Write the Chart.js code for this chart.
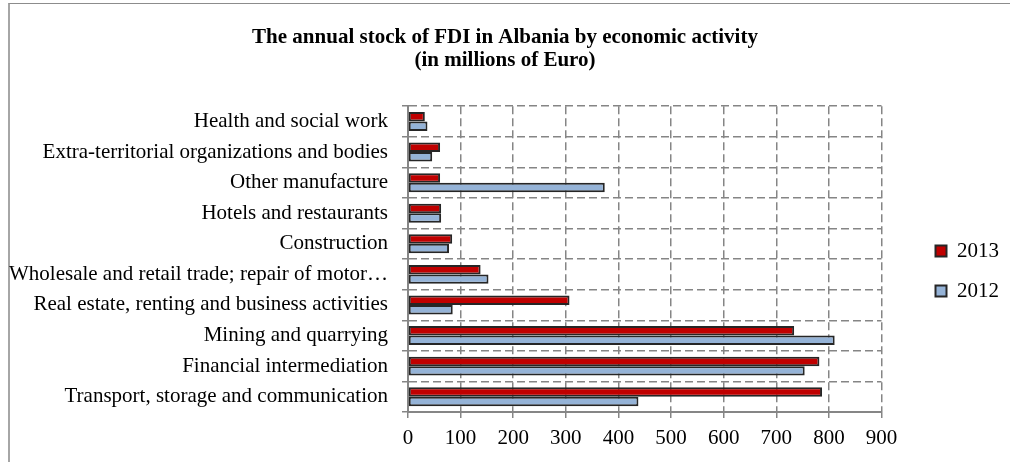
<!DOCTYPE html>
<html>
<head>
<meta charset="utf-8">
<title>FDI stock in Albania</title>
<script src="https://cdn.jsdelivr.net/npm/chart.js"></script>
<style>
	html, body { margin: 0; padding: 0; background: #fff; }
	#wrap { position: relative; width: 1010px; height: 462px; overflow: hidden; }
	#frame { position: absolute; left: 8px; top: 3px; width: 1100px; height: 600px; border-left: 2px solid #a6a6a6; border-top: 1px solid #8c8c8c; }
	#graf_fdi { position: absolute; left: 0; top: 0; }
</style>
</head>
<body>
<div id="wrap">
	<div id="frame"></div>
	<canvas id="graf_fdi" width="1010" height="462"></canvas>
</div>
<script>
// values (millions of Euro)
var activities = [
	'Health and social work',
	'Extra-territorial organizations and bodies',
	'Other manufacture',
	'Hotels and restaurants',
	'Construction',
	'Wholesale and retail trade; repair of motor\u2026',
	'Real estate, renting and business activities',
	'Mining and quarrying',
	'Financial intermediation',
	'Transport, storage and communication'
];
var stock2013 = [32, 61, 61, 63, 84, 138, 307, 734, 782, 787];
var stock2012 = [37, 46, 374, 63, 78, 153, 85, 811, 754, 438];
var valueTicks = [0, 100, 200, 300, 400, 500, 600, 700, 800, 900];

var serif = 'Liberation Serif, Times New Roman, serif';

// shift title and legend a little, like the original layout
var boxNudge = {
	id: 'boxNudge',
	afterLayout: function(chart) {
		chart.titleBlock.left += 18;
		chart.titleBlock.right += 18;
		chart.legend.left += 35;
		chart.legend.right += 35;
		chart.legend.top += 40;
		chart.legend.bottom += 40;
	}
};

var chartdata = {
	labels: activities,
	datasets: [
		{
			label: '2013',
			backgroundColor: '#C00000',
			borderColor: '#262626',
			borderWidth: 2,
			borderSkipped: false,
			data: stock2013
		},
		{
			label: '2012',
			backgroundColor: '#95B3D7',
			borderColor: '#262626',
			borderWidth: 2,
			borderSkipped: false,
			data: stock2012
		}
	]
};

var ctx = document.getElementById('graf_fdi');

var barGraph = new Chart(ctx, {
	type: 'bar',
	data: chartdata,
	plugins: [boxNudge],
	options: {
		indexAxis: 'y',
		responsive: false,
		animation: false,
		categoryPercentage: 0.62,
		barPercentage: 1.0,
		layout: { padding: { left: 0, right: 36, top: 0, bottom: 0 } },
		plugins: {
			title: {
				display: true,
				text: ['The annual stock of FDI in Albania by economic activity', '(in millions of Euro)'],
				color: '#000',
				font: { family: serif, size: 21, weight: 'bold', lineHeight: 1.1 },
				padding: { top: 26, bottom: 34 }
			},
			legend: {
				position: 'right',
				labels: {
					boxWidth: 11,
					boxHeight: 11,
					padding: 19,
					color: '#000',
					font: { family: serif, size: 21 }
				}
			},
			tooltip: { enabled: false }
		},
		scales: {
			x: {
				min: 0,
				max: 900,
				afterBuildTicks: function(scale) {
					scale.ticks = valueTicks.map(function(v) { return { value: v }; });
				},
				afterFit: function(scale) { scale.height = 50; },
				ticks: { color: '#000', padding: 8, font: { family: serif, size: 21 } },
				grid: { color: '#858585', lineWidth: 1.5, tickLength: 6 },
				border: { color: '#868686', width: 2, dash: [8, 4] }
			},
			y: {
				afterFit: function(scale) { scale.width = 408; },
				ticks: { color: '#000', padding: 14, font: { family: serif, size: 21 } },
				grid: { color: '#858585', lineWidth: 1.5, tickLength: 6, offset: true },
				border: { color: '#868686', width: 2, dash: [8, 4] }
			}
		}
	}
});
</script>
</body>
</html>
